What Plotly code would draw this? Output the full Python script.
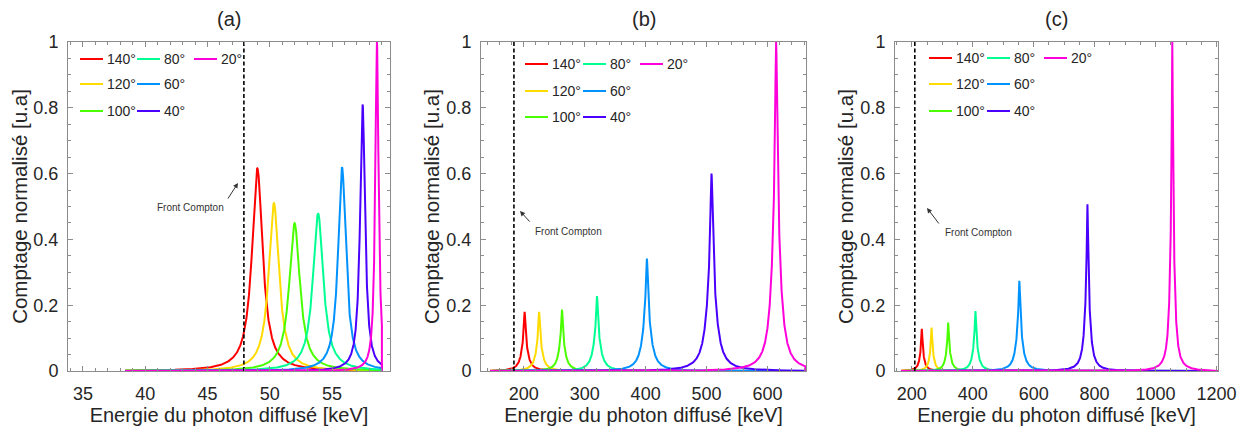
import numpy as np
import plotly.graph_objects as go

# ---------------- data ----------------
angles = ["140°", "120°", "100°", "80°", "60°", "40°", "20°"]
colors = ["#FF0000", "#FFDB00", "#49FF00", "#00FF92", "#0092FF", "#4900FF", "#FF00DB"]

# panel (a): peak energy [keV], normalised height, broad / narrow half widths [keV]
a_centers = [49.0, 50.33, 51.99, 53.88, 55.8, 57.45, 58.6]
a_heights = [0.616, 0.51, 0.449, 0.479, 0.619, 0.81, 1.0]
a_broad = [0.52, 0.50, 0.52, 0.50, 0.38, 0.24, 0.16]
a_narrow = [0.52, 0.50, 0.52, 0.50, 0.38, 0.24, 0.16]
a_span = [38.4, 59.0]
a_edge = 47.92
a_range = [33.8, 59.65]
a_ticks = [35, 40, 45, 50, 55]

# panel (b)
b_centers = [201.5, 225.3, 262.8, 320.2, 402.0, 508.0, 614.0]
b_heights = [0.18, 0.18, 0.187, 0.228, 0.342, 0.60, 1.0]
b_broad = [6.0, 6.0, 6.0, 7.0, 8.0, 9.0, 8.0]
b_narrow = [1.5, 1.5, 1.5, 1.7, 2.0, 2.2, 2.0]
b_span = [145, 662]
b_edge = 184
b_range = [130, 663]
b_ticks = [200, 300, 400, 500, 600]

# panel (c)
c_centers = [233.0, 265.0, 319.5, 409.0, 553.0, 776.5, 1055.0]
c_heights = [0.128, 0.132, 0.147, 0.182, 0.274, 0.507, 1.0]
c_broad = [8.0, 8.0, 9.0, 10.0, 12.0, 10.0, 8.0]
c_narrow = [2.0, 2.0, 2.2, 2.5, 3.0, 2.5, 2.0]
c_span = [165, 1205]
c_edge = 210
c_range = [145, 1205]
c_ticks = [200, 400, 600, 800, 1000, 1200]

y_ticks = [0, 0.2, 0.4, 0.6, 0.8, 1]
titles = ["(a)", "(b)", "(c)"]
x_title = "Energie du photon diffusé [keV]"
y_title = "Comptage normalisé [u.a]"
edge_label = "Front Compton"

# ---------------- layout geometry (pixels in the screenshot) ----------------
W, H = 1248, 430
OFF = 8  # default body margin of the html page
FONT = "Liberation Sans, Arial, sans-serif"
panels_px = [(68, 390), (481, 806), (895, 1218)]
top_px, bot_px = 42, 371


def px(x):
    return (x - OFF) / W


def py(y):
    return 1 - (y - OFF) / H


panels = [
    dict(c=a_centers, h=a_heights, wb=a_broad, wn=a_narrow, span=a_span, edge=a_edge,
         rng=a_range, ticks=a_ticks, minor=1, n=3000),
    dict(c=b_centers, h=b_heights, wb=b_broad, wn=b_narrow, span=b_span, edge=b_edge,
         rng=b_range, ticks=b_ticks, minor=20, n=4000),
    dict(c=c_centers, h=c_heights, wb=c_broad, wn=c_narrow, span=c_span, edge=c_edge,
         rng=c_range, ticks=c_ticks, minor=50, n=5000),
]

fig = go.Figure()
shapes = []
annotations = []

legend_cols = [[12, 69, 126], [44, 102, 159], [34, 92, 149]]
legend_rows = [[17, 42, 69], [22, 49, 75], [16, 42, 69]]
legend_slots = [(0, 0), (0, 1), (0, 2), (1, 0), (1, 1), (1, 2), (2, 0)]  # (col,row)

arrow_specs = [
    dict(head=(238, 183), tail=(227, 200), text=(190, 207)),
    dict(head=(520, 211), tail=(531, 223), text=(568, 231)),
    dict(head=(927, 208), tail=(940, 225), text=(978, 232)),
]


def lor(x, c, w):
    return 1.0 / (1 + ((x - c) / w) ** 2)


for k, p in enumerate(panels):
    xa = "x" if k == 0 else f"x{k+1}"
    ya = "y" if k == 0 else f"y{k+1}"
    xl, xr = panels_px[k]
    x = np.linspace(p["span"][0], p["span"][1], p["n"])
    x = np.union1d(x, np.array(p["c"]))
    for i in range(len(angles)):
        y = p["h"][i] * 0.5 * (lor(x, p["c"][i], p["wb"][i]) + lor(x, p["c"][i], p["wn"][i]))
        xs = np.append(x, x[-1])
        ys = np.append(y, 0.0)
        fig.add_trace(go.Scatter(x=xs, y=ys, mode="lines", name=angles[i],
                                 line=dict(color=colors[i], width=2),
                                 showlegend=False, xaxis=xa, yaxis=ya,
                                 hoverinfo="skip"))
    fig.add_trace(go.Scatter(x=[p["edge"], p["edge"]], y=[0, 1], mode="lines",
                             line=dict(color="black", width=1.6, dash="4px,2.5px"),
                             showlegend=False, xaxis=xa, yaxis=ya, hoverinfo="skip"))

    axis_common = dict(showline=True, linecolor="#8c8c8c", linewidth=1, mirror="ticks",
                       ticks="inside", ticklen=5, tickcolor="#8c8c8c", showgrid=False,
                       zeroline=False,
                       tickfont=dict(family=FONT, size=18, color="#262626"))
    fig.update_layout(**{
        ("xaxis" if k == 0 else f"xaxis{k+1}"): dict(
            domain=[px(xl), px(xr)], range=p["rng"], anchor=ya,
            tickvals=p["ticks"], ticklabelstandoff=6,
            minor=dict(dtick=p["minor"], ticks="inside", ticklen=3, tickcolor="#8c8c8c",
                       showgrid=False, tick0=0),
            title=dict(text=x_title, standoff=2,
                       font=dict(family=FONT, size=20, color="#262626")),
            **axis_common),
        ("yaxis" if k == 0 else f"yaxis{k+1}"): dict(
            domain=[py(bot_px), py(top_px)], range=[0, 1], anchor=xa,
            tickvals=y_ticks, ticklabelstandoff=5,
            minor=dict(dtick=0.05, ticks="inside", ticklen=3, tickcolor="#8c8c8c",
                       showgrid=False, tick0=0),
            title=dict(text=y_title, standoff=1,
                       font=dict(family=FONT, size=20.5, color="#262626")),
            **axis_common),
    })

    annotations.append(dict(x=px((xl + xr) / 2), y=py(19), xref="paper", yref="paper",
                            text=titles[k], showarrow=False, xanchor="center",
                            yanchor="middle",
                            font=dict(family=FONT, size=20, color="#262626")))

    for i, (col, row) in enumerate(legend_slots):
        x0 = xl + legend_cols[k][col]
        yy = top_px + legend_rows[k][row]
        shapes.append(dict(type="line", xref="paper", yref="paper",
                           x0=px(x0), x1=px(x0 + 23), y0=py(yy), y1=py(yy),
                           line=dict(color=colors[i], width=2)))
        annotations.append(dict(x=px(x0 + 25), y=py(yy), xref="paper", yref="paper",
                                text=angles[i], showarrow=False, xanchor="left",
                                yanchor="middle",
                                font=dict(family=FONT, size=14, color="#262626")))

    s = arrow_specs[k]
    annotations.append(dict(x=px(s["head"][0]), y=py(s["head"][1]), xref="paper", yref="paper",
                            text="", showarrow=True, arrowhead=2, arrowsize=1,
                            arrowwidth=1, arrowcolor="#333333",
                            ax=s["tail"][0] - s["head"][0], ay=s["tail"][1] - s["head"][1]))
    annotations.append(dict(x=px(s["text"][0]), y=py(s["text"][1]), xref="paper", yref="paper",
                            text=edge_label, showarrow=False, xanchor="center",
                            yanchor="middle",
                            font=dict(family=FONT, size=10, color="#333333")))

fig.update_layout(
    template="none",
    width=W, height=H,
    margin=dict(l=0, r=0, t=0, b=0),
    paper_bgcolor="white", plot_bgcolor="white",
    showlegend=False,
    shapes=shapes,
    annotations=annotations,
)

fig.write_html("out.html")
